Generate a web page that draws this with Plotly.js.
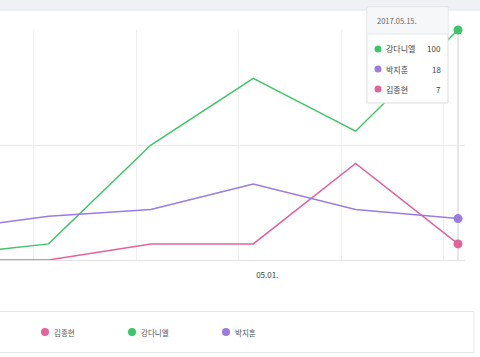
<!DOCTYPE html>
<html>
<head>
<meta charset="utf-8">
<script src="https://cdn.plot.ly/plotly-3.0.1.min.js"></script>
<style>html,body{margin:0;padding:0;background:#fff;}#chart{width:480px;height:357px;}</style>
</head>
<body>
<div id="chart"></div>
<script>
// ---- data ----
const dates = ['2017-04-10','2017-04-17','2017-04-24','2017-05-01','2017-05-08','2017-05-15'];
const names = ['김종현','강다니엘','박지훈'];
const kim  = [0, 0, 7, 7, 42, 7];
const kang = [2, 7, 50, 79, 56, 100];
const park = [13, 19, 22, 33, 22, 18];
const tickDates = ['2017-05-01'];
const tickLabels = ['05.01.'];
const gridDates = ['2017-04-16','2017-04-23','2017-04-30','2017-05-07','2017-05-14'];

// ---- style ----
const colors = ['#e2639c', '#3fc46a', '#9b7be2'];
const series = [kim, kang, park];
const FONT = '"Noto Sans CJK KR", "Noto Sans", sans-serif';

const W = 480, H = 357, mL = 0, mR = 15, mT = 30, mB = 97;
const pw = W - mL - mR, ph = H - mT - mB;
const X = p => (p - mL) / pw;
const Y = p => (H - mB - p) / ph;

const traces = [];
series.forEach((s, i) => {
  traces.push({
    x: dates, y: s, type: 'scatter', mode: 'lines', name: names[i],
    line: {color: colors[i], width: 1.5}, showlegend: false, hoverinfo: 'skip'
  });
});
series.forEach((s, i) => {
  const n = s.length - 1;
  traces.push({
    x: [dates[n]], y: [s[n]], type: 'scatter', mode: 'markers', name: names[i],
    marker: {color: colors[i], size: 9}, cliponaxis: false, showlegend: false, hoverinfo: 'skip'
  });
});
// overlay axis for the vertical grid
traces.push({x: [dates[1]], y: [0], xaxis: 'x2', type: 'scatter', mode: 'markers',
  marker: {opacity: 0}, showlegend: false, hoverinfo: 'skip'});

const xr = ['2017-04-13 16:26', '2017-05-15 11:28'];

const shapes = [];
const ann = [];
// top band
shapes.push({type: 'rect', xref: 'paper', yref: 'paper', x0: -0.01, x1: 1.05, y0: Y(10), y1: Y(-2),
  fillcolor: '#eff1f5', line: {width: 0}, layer: 'above'});
shapes.push({type: 'line', xref: 'paper', yref: 'paper', x0: -0.01, x1: 1.05, y0: Y(10), y1: Y(10),
  line: {color: '#e1e4e9', width: 1}, layer: 'above'});
// hover line
shapes.push({type: 'line', xref: 'x', yref: 'paper', x0: dates[5], x1: dates[5], y0: 0, y1: 1,
  line: {color: '#d0d0d0', width: 1}, layer: 'below'});

// tooltip
const tb = {l: 367, r: 448, t: 7, b: 103, h: 34};
shapes.push({type: 'rect', xref: 'paper', yref: 'paper', x0: X(tb.l), x1: X(tb.r), y0: Y(tb.b), y1: Y(tb.t),
  fillcolor: '#ffffff', line: {color: '#dcdde0', width: 1}, layer: 'above'});
shapes.push({type: 'rect', xref: 'paper', yref: 'paper', x0: X(tb.l + 0.5), x1: X(tb.r - 0.5), y0: Y(tb.h), y1: Y(tb.t + 0.5),
  fillcolor: '#f6f7f9', line: {width: 0}, layer: 'above'});
shapes.push({type: 'line', xref: 'paper', yref: 'paper', x0: X(tb.l), x1: X(tb.r), y0: Y(tb.h), y1: Y(tb.h),
  line: {color: '#e6e7ea', width: 1}, layer: 'above'});
const last = dates[dates.length - 1].replace(/-/g, '.') + '.';
ann.push({xref: 'paper', yref: 'paper', x: X(375), y: Y(20), xanchor: 'left', yanchor: 'middle',
  text: last, showarrow: false, font: {family: FONT, size: 7.5, color: '#666'}});
const order = [0, 1, 2].sort((a, b) => series[b][series[b].length - 1] - series[a][series[a].length - 1]);
const rowY = [49, 69, 89];
order.forEach((i, k) => {
  const cy = rowY[k], cx = 378, r = 3.5;
  shapes.push({type: 'circle', xref: 'paper', yref: 'paper', x0: X(cx - r), x1: X(cx + r), y0: Y(cy + r), y1: Y(cy - r),
    fillcolor: colors[i], line: {width: 0}, layer: 'above'});
  ann.push({xref: 'paper', yref: 'paper', x: X(384), y: Y(cy), xanchor: 'left', yanchor: 'middle',
    text: names[i], showarrow: false, font: {family: FONT, size: 8, color: '#444'}});
  ann.push({xref: 'paper', yref: 'paper', x: X(443), y: Y(cy), xanchor: 'right', yanchor: 'middle',
    text: String(series[i][series[i].length - 1]), showarrow: false, font: {family: FONT, size: 8, color: '#444'}});
});

// legend box
shapes.push({type: 'rect', xref: 'paper', yref: 'paper', x0: X(-2), x1: X(474), y0: Y(352.5), y1: Y(311.5),
  fillcolor: 'rgba(0,0,0,0)', line: {color: '#e4e5e8', width: 1}});
const legX = [45, 132, 226];
names.forEach((n, i) => {
  const cx = legX[i], cy = 332, r = 4;
  shapes.push({type: 'circle', xref: 'paper', yref: 'paper', x0: X(cx - r), x1: X(cx + r), y0: Y(cy + r), y1: Y(cy - r),
    fillcolor: colors[i], line: {width: 0}});
  ann.push({xref: 'paper', yref: 'paper', x: X(cx + 7), y: Y(cy), xanchor: 'left', yanchor: 'middle',
    text: n, showarrow: false, font: {family: FONT, size: 7.5, color: '#555'}});
});

const layout = {
  width: W, height: H,
  margin: {l: mL, r: mR, t: mT, b: mB, pad: 0},
  paper_bgcolor: '#ffffff', plot_bgcolor: '#ffffff',
  showlegend: false,
  font: {family: FONT, size: 8, color: '#555'},
  xaxis: {type: 'date', range: xr, tickvals: tickDates, ticktext: tickLabels, showgrid: false,
    zeroline: false, showline: true, linecolor: '#e3e3e3', linewidth: 1, ticks: '',
    ticklabelstandoff: 7, ticklabelshift: 14,
    tickfont: {family: FONT, size: 8, color: '#444'}, fixedrange: true},
  xaxis2: {type: 'date', overlaying: 'x', range: xr, tickvals: gridDates, showticklabels: false,
    showgrid: true, gridcolor: '#f0f0f0', gridwidth: 1, zeroline: false, ticks: '', side: 'bottom'},
  yaxis: {range: [0, 100], tickvals: [0, 50, 100], showticklabels: false, showgrid: true,
    gridcolor: '#e9e9e9', gridwidth: 1, zeroline: false, ticks: '', fixedrange: true},
  shapes: shapes,
  annotations: ann
};

Plotly.newPlot('chart', traces, layout, {staticPlot: true, displayModeBar: false});
</script>
</body>
</html>
